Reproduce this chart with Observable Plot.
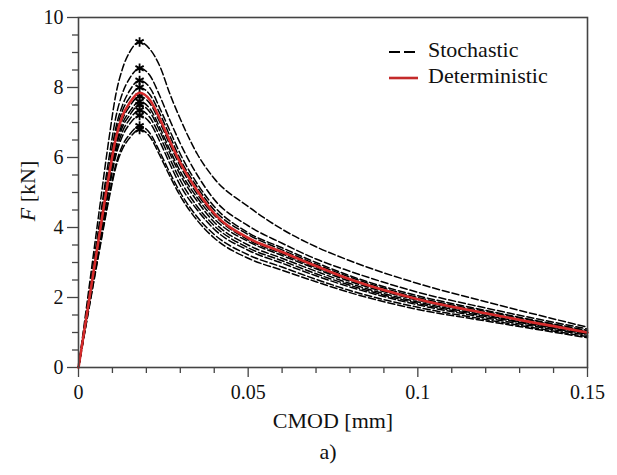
<!DOCTYPE html>
<html>
<head>
<meta charset="utf-8">
<script src="https://cdn.jsdelivr.net/npm/d3@7"></script>
<script src="https://cdn.jsdelivr.net/npm/@observablehq/plot@0.6"></script>
<style>
  body { margin: 0; background: #fff; }
  #chart { position: relative; width: 617px; height: 475px; }
  #caption { position: absolute; left: 0; width: 656px; top: 439px; text-align: center;
             font-family: "Liberation Serif", serif; font-size: 22px; color: #111; }
</style>
</head>
<body>
<div id="chart"></div>
<script>
// CMOD sample positions [mm]
const cmod = [0, 0.003, 0.006, 0.009, 0.011, 0.013, 0.015, 0.018, 0.021, 0.024, 0.027, 0.03, 0.035, 0.04, 0.05, 0.06, 0.07, 0.08, 0.1, 0.12, 0.15];

// Stochastic runs, F [kN]
const run1  = [0, 2.2, 4.4, 6.55, 7.8, 8.55, 9.0, 9.3, 9.1, 8.6, 7.8, 7.1, 6.1, 5.4, 4.6, 3.95, 3.45, 3.05, 2.4, 1.88, 1.15];
const run2  = [0, 2.01, 4.03, 6.0, 7.15, 7.85, 8.25, 8.55, 8.35, 7.75, 7.05, 6.4, 5.5, 4.8, 4.05, 3.55, 3.1, 2.75, 2.15, 1.7, 1.1];
const run3  = [0, 1.93, 3.87, 5.75, 6.85, 7.5, 7.9, 8.2, 8.0, 7.4, 6.75, 6.1, 5.25, 4.6, 3.85, 3.42, 3.0, 2.62, 2.05, 1.63, 1.06];
const run4  = [0, 1.9, 3.78, 5.62, 6.7, 7.35, 7.7, 8.0, 7.8, 7.25, 6.6, 5.95, 5.15, 4.5, 3.8, 3.36, 2.95, 2.58, 2.0, 1.6, 1.04];
const run5  = [0, 1.8, 3.6, 5.35, 6.35, 6.98, 7.3, 7.6, 7.4, 6.85, 6.2, 5.6, 4.85, 4.25, 3.6, 3.2, 2.82, 2.46, 1.92, 1.53, 1.0];
const run6  = [0, 1.78, 3.55, 5.28, 6.27, 6.88, 7.2, 7.5, 7.3, 6.75, 6.1, 5.5, 4.75, 4.15, 3.5, 3.12, 2.75, 2.4, 1.87, 1.49, 0.97];
const run7  = [0, 1.75, 3.5, 5.2, 6.15, 6.75, 7.08, 7.35, 7.15, 6.6, 5.95, 5.35, 4.6, 4.05, 3.42, 3.05, 2.68, 2.35, 1.83, 1.46, 0.95];
const run8  = [0, 1.72, 3.45, 5.1, 6.05, 6.62, 6.95, 7.2, 7.0, 6.45, 5.8, 5.2, 4.5, 3.95, 3.35, 2.98, 2.62, 2.3, 1.79, 1.42, 0.92];
const run9  = [0, 1.66, 3.3, 4.9, 5.8, 6.35, 6.65, 6.9, 6.7, 6.15, 5.55, 5.0, 4.3, 3.8, 3.22, 2.87, 2.52, 2.2, 1.72, 1.37, 0.88];
const run10 = [0, 1.63, 3.25, 4.82, 5.72, 6.25, 6.55, 6.8, 6.6, 6.05, 5.45, 4.9, 4.2, 3.7, 3.12, 2.78, 2.45, 2.14, 1.66, 1.33, 0.85];
const run11 = [0, 1.83, 3.65, 5.45, 6.48, 7.1, 7.45, 7.75, 7.55, 7.0, 6.35, 5.75, 4.95, 4.35, 3.65, 3.25, 2.86, 2.5, 1.95, 1.55, 1.01];

// Deterministic curve, F [kN]
const deterministic = [0, 1.85, 3.7, 5.5, 6.55, 7.2, 7.55, 7.85, 7.65, 7.1, 6.45, 5.85, 5.05, 4.4, 3.7, 3.3, 2.9, 2.52, 1.95, 1.55, 1.0];

// Ticks
const xMajor = [0, 0.05, 0.1, 0.15];
const xMajorLabels = ["0", "0.05", "0.1", "0.15"];
const xMinor = [0.01, 0.02, 0.03, 0.04, 0.06, 0.07, 0.08, 0.09, 0.11, 0.12, 0.13, 0.14];
const yMajor = [0, 2, 4, 6, 8, 10];
const yMinor = [0.5, 1, 1.5, 2.5, 3, 3.5, 4.5, 5, 5.5, 6.5, 7, 7.5, 8.5, 9, 9.5];

const xLabel = "CMOD [mm]";
const legendLabels = ["Stochastic", "Deterministic"];

const runs = [run1, run2, run3, run4, run5, run6, run7, run8, run9, run10, run11];
const stochRows = runs.flatMap((r, i) => r.map((F, j) => ({run: i, x: cmod[j], F})));
const detRows = deterministic.map((F, j) => ({x: cmod[j], F}));
const peaks = runs.map(r => { const k = r.indexOf(Math.max(...r)); return {x: cmod[k], F: r[k]}; });

const font = "Liberation Serif";
const axisColor = "#444";

const plot = Plot.plot({
  width: 617,
  height: 435,
  marginTop: 17,
  marginRight: 30,
  marginBottom: 68,
  marginLeft: 78,
  style: {color: "#111", background: "#fff", overflow: "visible", fontFamily: "'Liberation Serif', serif"},
  x: {domain: [0, 0.15]},
  y: {domain: [0, 10]},
  marks: [
    Plot.axisX(xMinor, {tickSize: 6, tickFormat: () => "", stroke: axisColor, strokeWidth: 1.3, label: null}),
    Plot.axisX(xMajor, {tickSize: 10, tickPadding: 7, tickFormat: (d, i) => xMajorLabels[i], fontSize: 20, stroke: axisColor, strokeWidth: 1.3, label: null, fontFamily: font}),
    Plot.axisY(yMinor, {tickSize: 6, tickFormat: () => "", stroke: axisColor, strokeWidth: 1.3, label: null}),
    Plot.axisY(yMajor, {tickSize: 11, tickPadding: 4, fontSize: 20, stroke: axisColor, strokeWidth: 1.3, label: null, fontFamily: font}),
    Plot.line(stochRows, {x: "x", y: "F", z: "run", stroke: "#000", strokeWidth: 1.5, strokeDasharray: "7,3", curve: "monotone-x"}),
    Plot.dot(peaks, {x: "x", y: "F", symbol: "asterisk", r: 4.5, stroke: "#000", strokeWidth: 1.8}),
    Plot.line(detRows, {x: "x", y: "F", stroke: "#d42a2a", strokeWidth: 2.6, curve: "monotone-x"}),
    Plot.frame({stroke: axisColor, strokeWidth: 1.6}),
    Plot.text([xLabel], {frameAnchor: "bottom", dy: 60, fontSize: 22, fill: "#111", fontFamily: font})
  ]
});

const svg = d3.select(plot);
// y-axis label with italic F
const yl = svg.append("text")
  .attr("transform", "translate(30,191) rotate(-90)")
  .attr("text-anchor", "middle")
  .attr("dominant-baseline", "middle")
  .attr("font-size", 22)
  .attr("font-family", font)
  .attr("fill", "#111");
yl.append("tspan").attr("font-style", "italic").text("F");
yl.append("tspan").text(" [kN]");

// legend
const lg = svg.append("g").attr("font-size", 22).attr("font-family", font).attr("fill", "#111").attr("text-anchor", "start");
lg.append("line").attr("x1", 389).attr("x2", 418).attr("y1", 52).attr("y2", 52)
  .attr("stroke", "#000").attr("stroke-width", 2).attr("stroke-dasharray", "11,4");
lg.append("text").attr("x", 428).attr("y", 52).attr("dominant-baseline", "middle").text(legendLabels[0]);
lg.append("line").attr("x1", 389).attr("x2", 418).attr("y1", 78).attr("y2", 78)
  .attr("stroke", "#c42a2a").attr("stroke-width", 2.6);
lg.append("text").attr("x", 428).attr("y", 78).attr("dominant-baseline", "middle").text(legendLabels[1]);

document.getElementById("chart").appendChild(plot);
const cap = document.createElement("div");
cap.id = "caption";
cap.textContent = "a)";
document.getElementById("chart").appendChild(cap);
</script>
</body>
</html>
